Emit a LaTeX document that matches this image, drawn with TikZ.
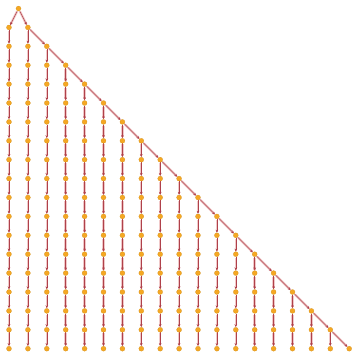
\documentclass[tikz,border=0pt]{standalone}
\usetikzlibrary{arrows.meta,backgrounds}
\definecolor{vcol}{RGB}{245,168,35}
\definecolor{ecol}{RGB}{175,65,75}
\definecolor{hcol}{RGB}{240,200,200}
\begin{document}
\begin{tikzpicture}[x=1pt,y=-1pt,
  vtx/.style={circle,fill=vcol,draw=vcol!85!black,line width=0.2pt,inner sep=0pt,minimum size=5pt},
  halo/.style={draw=hcol,line width=2.4pt,shorten <=1pt,shorten >=1pt},
  edg/.style={draw=ecol,line width=0.55pt,-{Stealth[length=3pt,width=2.6pt]}}]
\useasboundingbox (0,0) rectangle (360,360);
\node[vtx] (r) at (18.5,8.5) {};
\foreach \j in {1,...,18} \node[vtx] (n-0-\j) at (9,{8.5+18.9*\j}) {};
\foreach \k in {1,...,18} {
  \foreach \j in {\k,...,18} {
    \node[vtx] (n-\k-\j) at ({9+18.9*\k},{8.5+18.9*\j}) {};
  }
}
\begin{pgfonlayer}{background}
  \foreach \s/\t in {r/n-0-1, r/n-1-1} {
    \draw[halo] (\s) -- (\t);
    \draw[edg] (\s) -- (\t);
  }
  \foreach \j [evaluate=\j as \jn using int(\j+1)] in {1,...,17} {
    \draw[halo] (n-0-\j) -- (n-0-\jn);
    \draw[edg] (n-0-\j) -- (n-0-\jn);
  }
  \foreach \k [evaluate=\k as \kn using int(\k+1)] in {1,...,17} {
    \draw[halo] (n-\k-\k) -- (n-\kn-\kn);
    \draw[edg] (n-\k-\k) -- (n-\kn-\kn);
    \foreach \j [evaluate=\j as \jn using int(\j+1)] in {\k,...,17} {
      \draw[halo] (n-\k-\j) -- (n-\k-\jn);
      \draw[edg] (n-\k-\j) -- (n-\k-\jn);
    }
  }
\end{pgfonlayer}
\end{tikzpicture}
\end{document}
